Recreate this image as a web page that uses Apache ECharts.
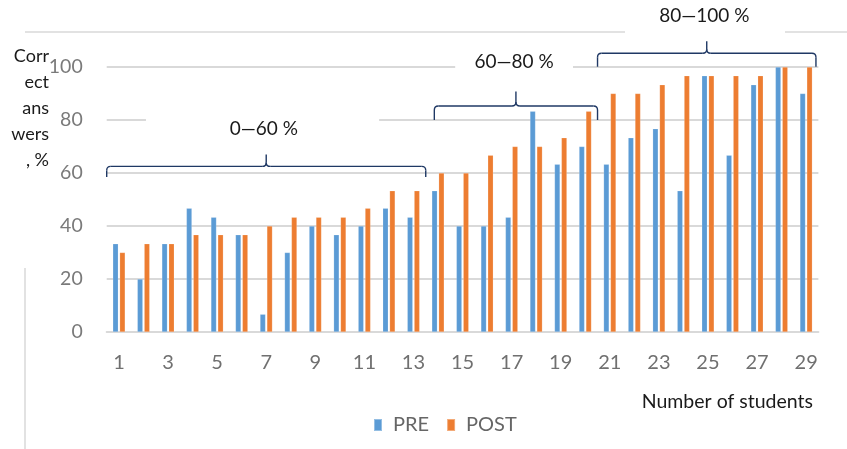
<!DOCTYPE html>
<html>
<head>
<meta charset="utf-8">
<script src="https://cdn.jsdelivr.net/npm/echarts@6/dist/echarts.min.js"></script>
<style>
html,body{margin:0;padding:0;background:#fff;}
#c{width:847px;height:449px;}
</style>
</head>
<body>
<div id="c"></div>
<script>
const categories = ['1','2','3','4','5','6','7','8','9','10','11','12','13','14','15','16','17','18','19','20','21','22','23','24','25','26','27','28','29'];
const preValues  = [33.3,20,33.3,46.7,43.3,36.7,6.7,30,40,36.7,40,46.7,43.3,53.3,40,40,43.3,83.3,63.3,70,63.3,73.3,76.7,53.3,96.7,66.7,93.3,100,90];
const postValues = [30,33.3,33.3,36.7,36.7,36.7,40,43.3,43.3,43.3,46.7,53.3,53.3,60,60,66.7,70,70,73.3,83.3,90,90,93.3,96.7,96.7,96.7,96.7,100,100];
const seriesNames = ['PRE','POST'];
const yTicks = [0,20,40,60,80,100];
const groupLabels = ['0\u201460 %','60\u201480 %','80\u2014100 %'];
const yTitle = 'Corr\nect\nans\nwers\n, %';
const xTitle = 'Number of students';

const FONT = 'Lato, "Liberation Sans", sans-serif';
const chart = echarts.init(document.getElementById('c'), null, {renderer:'canvas'});

chart.setOption({
  animation:false,
  backgroundColor:'#fff',
  grid:{left:106.7, right:28.6, top:67, bottom:117, containLabel:false},
  legend:{
    data:seriesNames, left:368, top:410, icon:'rect', itemWidth:8, itemHeight:12, itemGap:17,
    textStyle:{fontFamily:FONT, fontSize:20, color:'#666666', padding:[0,0,0,6]}
  },
  xAxis:{
    type:'category', data:categories,
    axisTick:{show:false},
    axisLine:{lineStyle:{color:'#d9d9d9', width:2}},
    axisLabel:{interval:1, margin:21, fontFamily:FONT, fontSize:20, color:'#707070'}
  },
  yAxis:{
    type:'value', min:yTicks[0], max:yTicks[yTicks.length-1], interval:20,
    axisLine:{show:false}, axisTick:{show:false},
    splitLine:{lineStyle:{color:'#d9d9d9', width:2}},
    axisLabel:{margin:24, fontFamily:FONT, fontSize:19.5, color:'#7a7a7a'}
  },
  series:[
    {name:seriesNames[0], type:'bar', data:preValues, barWidth:5.5, barGap:'25%',
     itemStyle:{color:'#5b9bd5', borderColor:'rgba(255,255,255,0.35)', borderWidth:0.5}},
    {name:seriesNames[1], type:'bar', data:postValues, barWidth:5.5, barGap:'25%',
     itemStyle:{color:'#ed7d31', borderColor:'rgba(255,255,255,0.35)', borderWidth:0.5}}
  ]
});

// annotation helpers
const c0 = chart.convertToPixel({xAxisIndex:0}, categories[0]);
const c1 = chart.convertToPixel({xAxisIndex:0}, categories[1]);
const step = c1 - c0;
const X = i => c0 + i*step;
const Y = v => chart.convertToPixel({yAxisIndex:0}, v);

const BR = {stroke:'#1f3864', lineWidth:1.4, fill:null};
function brace(out, x0, x1, yMain, yEnd, yPeak){
  const xm = (x0+x1)/2, r = 4;
  const L = (a,b,c,d)=>out.push({type:'line', z:20, shape:{x1:a,y1:b,x2:c,y2:d}, style:BR});
  const Q = (a,b,cx,cy,c,d)=>out.push({type:'bezierCurve', z:20, shape:{x1:a,y1:b,cpx1:cx,cpy1:cy,x2:c,y2:d}, style:BR});
  L(x0,yEnd,x0,yMain+r);
  Q(x0,yMain+r,x0,yMain,x0+r,yMain);
  L(x0+r,yMain,xm-r,yMain);
  Q(xm-r,yMain,xm,yMain,xm,yMain-r);
  L(xm,yMain-r,xm,yPeak);
  Q(xm,yMain-r,xm,yMain,xm+r,yMain);
  L(xm+r,yMain,x1-r,yMain);
  Q(x1-r,yMain,x1,yMain,x1,yMain+r);
  L(x1,yMain+r,x1,yEnd);
}

const braces = [
  {x0:X(-0.5), x1:X(12.5), main:Y(62.5), end:Y(58.5), peak:Y(67), tx:X(5.9), ty:Y(76.6), label:groupLabels[0],
   box:[X(1.1), Y(82), X(10.6)-X(1.1), Y(70)-Y(82)]},
  {x0:X(12.85), x1:X(19.5), main:Y(85.3), end:Y(80), peak:Y(90.8), tx:X(16.1), ty:Y(101.9), label:groupLabels[1],
   box:[X(13.7), Y(106), X(18.5)-X(13.7), Y(96)-Y(106)]},
  {x0:X(19.5), x1:X(28.4), main:Y(105.2), end:Y(100.1), peak:Y(109.7), tx:X(23.85), ty:Y(119.2), label:groupLabels[2],
   box:null}
];

const g = [];
// outer border fragments
g.push({type:'line', z:1, shape:{x1:25, y1:32, x2:625, y2:32}, style:{stroke:'#d9d9d9', lineWidth:1.5}});
g.push({type:'line', z:1, shape:{x1:785, y1:32, x2:847, y2:32}, style:{stroke:'#d9d9d9', lineWidth:1.5}});
g.push({type:'line', z:1, shape:{x1:25, y1:268, x2:25, y2:449}, style:{stroke:'#d9d9d9', lineWidth:1.5}});

braces.forEach(b=>{
  if (b.box) g.push({type:'rect', z:1, shape:{x:b.box[0], y:b.box[1], width:b.box[2], height:b.box[3]}, style:{fill:'#ffffff'}});
  brace(g, b.x0, b.x1, b.main, b.end, b.peak);
  g.push({type:'text', z:20, x:b.tx, y:b.ty, style:{text:b.label, fontFamily:FONT, fontSize:19, fill:'#1a1a1a', align:'center', verticalAlign:'middle'}});
});

g.push({type:'text', z:20, x:49, y:43, style:{text:yTitle, fontFamily:FONT, fontSize:18, lineHeight:26, fill:'#1a1a1a', align:'right', verticalAlign:'top'}});
g.push({type:'text', z:20, x:813, y:402, style:{text:xTitle, fontFamily:FONT, fontSize:19.5, fill:'#1a1a1a', align:'right', verticalAlign:'middle'}});

chart.setOption({graphic:g});
</script>
</body>
</html>
